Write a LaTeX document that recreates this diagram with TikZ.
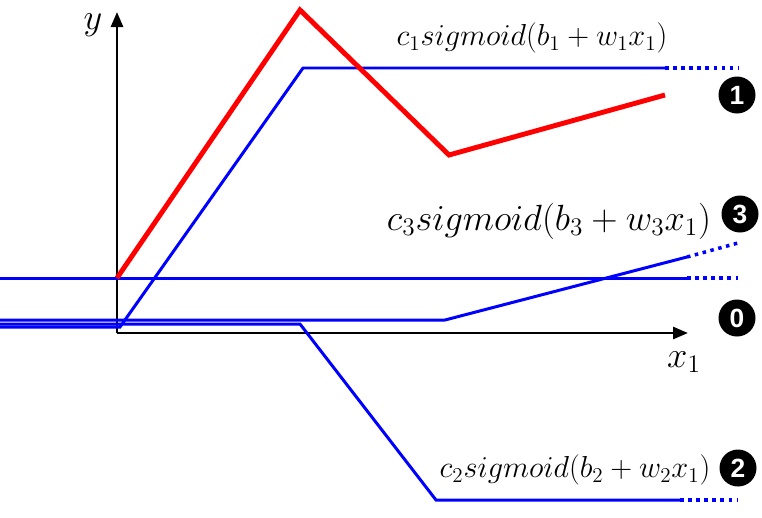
\documentclass[tikz,border=0pt]{standalone}
\usepackage{amsmath}
\usepackage{fontspec}
\newfontfamily\numfont{Liberation Sans}
\usetikzlibrary{arrows.meta,positioning}
\tikzset{
	axisarr/.style={-{Triangle[length=3mm, width=2.4mm]}, line width=1.6pt},
	sigline/.style={blue, line width=1.7pt},
	sigdots/.style={blue, line width=2pt, dash pattern=on 2pt off 2.6pt},
	sumline/.style={red, line width=2.8pt},
	numdot/.style={circle, fill=black, text=white, minimum size=0.74cm, inner sep=0pt,
		font=\numfont\bfseries\fontsize{15}{16}\selectfont},
	siglabel/.style={inner sep=1pt, font=\fontsize{17}{19}\selectfont},
	axislabel/.style={inner sep=0pt, font=\fontsize{22}{24}\selectfont}
}

\begin{document}
\begin{tikzpicture}[x=0.2mm, y=-0.2mm]
	\useasboundingbox (0,0) rectangle (762,517);
	% axes
	\coordinate (o) at (117,333);
	\coordinate (ytip) at (117,12);
	\coordinate (xtip) at (688,333);
	\draw[axisarr] (o) -- (ytip);
	\draw[axisarr] (o) -- (xtip);
	\node[axislabel] (ylab) at (93,25) {$y$};
	\node[axislabel] (xlab) at (684,362) {$x_1$};
	% constant
	\draw[sigline] (0,278) -- (687,278);
	\draw[sigdots] (687,278) -- (738,278);
	% sigmoid 1
	\draw[sigline] (0,327) -- (120,327) -- (303,68) -- (665,68);
	\draw[sigdots] (665,68) -- (738,68);
	% sigmoid 2
	\draw[sigline] (0,324) -- (300,324) -- (436,500) -- (680,500);
	\draw[sigdots] (680,500) -- (738,500);
	% sigmoid 3
	\draw[sigline] (0,320) -- (445,320) -- (687,257);
	\draw[sigdots] (687,257) -- (738,243);
	% sum
	\draw[sumline] (117,278) -- (300,10) -- (449,155) -- (665,95);
	% labels
	\node[siglabel] (lab1) at (532,38) {$c_1 sigmoid(b_1+w_1x_1)$};
	\node[siglabel, font=\fontsize{20}{22}\selectfont] (lab3) at (549,221) {$c_3 sigmoid(b_3+w_3x_1)$};
	\node[siglabel] (lab2) at (575,470) {$c_2 sigmoid(b_2+w_2x_1)$};
	\node[numdot] (n1) at (737,95) {1};
	\node[numdot] (n3) at (740,214) {3};
	\node[numdot] (n0) at (737,318) {0};
	\node[numdot] (n2) at (738,468) {2};
\end{tikzpicture}
\end{document}
